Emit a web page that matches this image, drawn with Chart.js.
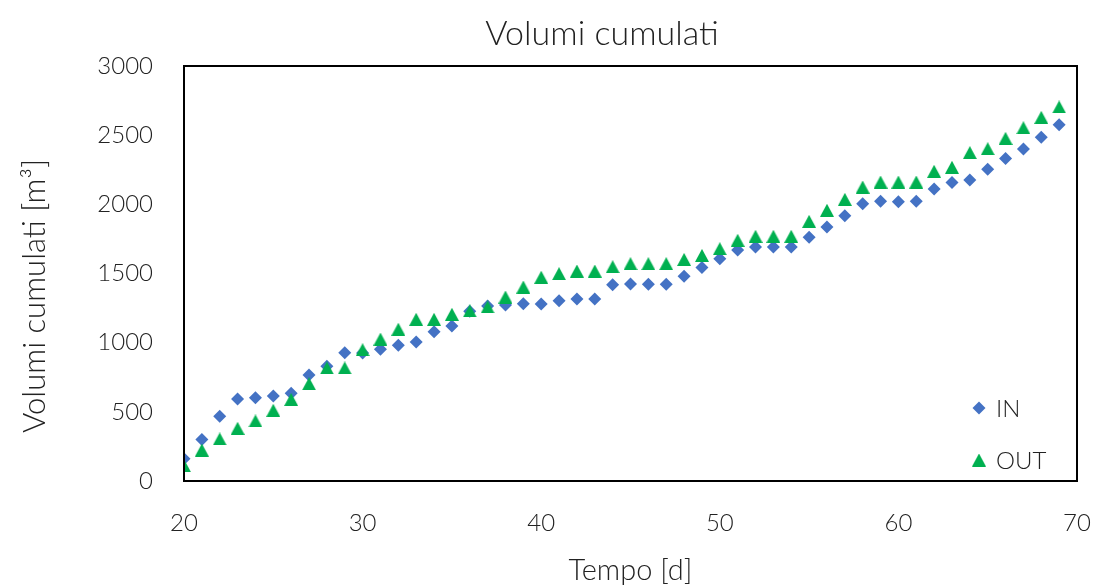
<!DOCTYPE html>
<html lang="it">
<head>
<meta charset="UTF-8">
<title>Volumi cumulati</title>
<script src="https://cdn.jsdelivr.net/npm/chart.js"></script>
<style>
  html, body { margin: 0; padding: 0; background: #fff; }
  #wrap { width: 1094px; height: 587px; }
</style>
</head>
<body>
<div id="wrap"><canvas id="volChart"></canvas></div>
<script>
// giorni di misura
const days = [20, 21, 22, 23, 24, 25, 26, 27, 28, 29,
              30, 31, 32, 33, 34, 35, 36, 37, 38, 39,
              40, 41, 42, 43, 44, 45, 46, 47, 48, 49,
              50, 51, 52, 53, 54, 55, 56, 57, 58, 59,
              60, 61, 62, 63, 64, 65, 66, 67, 68, 69];

// volumi cumulati in ingresso [m3]
const volIn = [160, 300, 468, 593, 602, 614, 634, 766, 829, 928,
               925, 952, 981, 1005, 1079, 1120, 1228, 1265, 1272, 1282,
               1280, 1303, 1316, 1316, 1419, 1424, 1422, 1422, 1480, 1543,
               1607, 1670, 1692, 1692, 1692, 1762, 1836, 1918, 2005, 2022,
               2019, 2022, 2111, 2157, 2176, 2254, 2331, 2400, 2485, 2576];

// volumi cumulati in uscita [m3]
const volOut = [111, 224, 304, 381, 434, 511, 590, 703, 817, 817,
                949, 1026, 1097, 1169, 1169, 1205, 1229, 1258, 1330, 1402,
                1473, 1499, 1518, 1518, 1549, 1571, 1571, 1571, 1602, 1631,
                1679, 1740, 1769, 1769, 1769, 1877, 1957, 2036, 2125, 2161,
                2161, 2161, 2239, 2268, 2374, 2402, 2477, 2554, 2629, 2704];

const xTicks = [20, 30, 40, 50, 60, 70];
const yTicks = [0, 500, 1000, 1500, 2000, 2500, 3000];

const BLUE = '#4472C4';
const GREEN = '#00B050';
const TEXT = '#222222';
const FONT = 'Lato, "Noto Sans", sans-serif';

// triangolo come immagine, così il centro del riquadro cade sul punto
function makeTriangle(w, h, color) {
  const c = document.createElement('canvas');
  c.width = w; c.height = h;
  const g = c.getContext('2d');
  g.fillStyle = color;
  g.beginPath();
  g.moveTo(w / 2, 0);
  g.lineTo(w, h);
  g.lineTo(0, h);
  g.closePath();
  g.fill();
  return c;
}
const triMarker = makeTriangle(14, 13, GREEN);

// cornice dell'area del grafico
const frame = {
  id: 'frame',
  afterDatasetsDraw(chart) {
    const { ctx, chartArea: a } = chart;
    ctx.save();
    ctx.strokeStyle = '#000';
    ctx.lineWidth = 2;
    ctx.strokeRect(a.left, a.top, a.right - a.left, a.bottom - a.top);
    ctx.restore();
  }
};

// titolo del grafico e titolo dell'asse y
const titles = {
  id: 'titles',
  afterDraw(chart) {
    const { ctx } = chart;
    ctx.save();
    ctx.fillStyle = TEXT;
    ctx.textAlign = 'center';
    ctx.textBaseline = 'middle';
    ctx.font = '300 34px ' + FONT;
    ctx.fillText('Volumi cumulati', 602, 34);
    ctx.translate(35, 296);
    ctx.rotate(-Math.PI / 2);
    ctx.font = '300 31px ' + FONT;
    ctx.fillText('Volumi cumulati [m³]', 0, 0);
    ctx.restore();
  }
};

// legenda dentro l'area, in basso a destra
const insideLegend = {
  id: 'insideLegend',
  afterDraw(chart) {
    const { ctx } = chart;
    const x = 979, tx = 996;
    ctx.save();
    ctx.fillStyle = BLUE;
    ctx.beginPath();
    ctx.moveTo(x, 408 - 6.5);
    ctx.lineTo(x + 6.5, 408);
    ctx.lineTo(x, 408 + 6.5);
    ctx.lineTo(x - 6.5, 408);
    ctx.closePath();
    ctx.fill();
    ctx.drawImage(triMarker, x - 7, 460 - 6.5);
    ctx.fillStyle = TEXT;
    ctx.font = '300 24px ' + FONT;
    ctx.textBaseline = 'middle';
    ctx.fillText(chart.data.datasets[0].label, tx, 409);
    ctx.fillText(chart.data.datasets[1].label, tx, 461);
    ctx.restore();
  }
};

new Chart(document.getElementById('volChart'), {
  type: 'scatter',
  data: {
    datasets: [
      {
        label: 'IN',
        data: days.map((d, i) => ({ x: d, y: volIn[i] })),
        pointStyle: 'rectRot',
        pointRadius: 6.5,
        pointHoverRadius: 6.5,
        backgroundColor: BLUE,
        borderColor: BLUE,
        borderWidth: 0,
        order: 2
      },
      {
        label: 'OUT',
        data: days.map((d, i) => ({ x: d, y: volOut[i] })),
        pointStyle: triMarker,
        backgroundColor: GREEN,
        borderColor: GREEN,
        order: 1
      }
    ]
  },
  options: {
    responsive: true,
    maintainAspectRatio: false,
    animation: false,
    layout: { padding: { left: 0, right: 17, top: 66, bottom: 0 } },
    plugins: {
      legend: { display: false },
      tooltip: { enabled: false },
      title: { display: false }
    },
    scales: {
      x: {
        type: 'linear',
        min: 20,
        max: 70,
        afterBuildTicks: s => { s.ticks = xTicks.map(v => ({ value: v })); },
        afterFit: s => { s.height = 106; s.paddingLeft = 0; s.paddingRight = 0; },
        grid: { display: false, drawTicks: false },
        border: { display: false },
        ticks: {
          color: TEXT, padding: 28, maxRotation: 0,
          font: { family: FONT, size: 24, weight: 300 },
          callback: v => String(v)
        },
        title: {
          display: true,
          text: 'Tempo [d]',
          color: TEXT,
          font: { family: FONT, size: 29, weight: 300, lineHeight: 1 },
          padding: { top: 0, bottom: 2 }
        }
      },
      y: {
        min: 0,
        max: 3000,
        afterBuildTicks: s => { s.ticks = yTicks.map(v => ({ value: v })); },
        afterFit: s => { s.width = 184; s.paddingTop = 0; s.paddingBottom = 0; },
        grid: { display: false, drawTicks: false },
        border: { display: false },
        ticks: {
          color: TEXT, padding: 31,
          font: { family: FONT, size: 24, weight: 300 },
          callback: v => String(v)
        }
      }
    }
  },
  plugins: [frame, titles, insideLegend]
});
</script>
</body>
</html>
